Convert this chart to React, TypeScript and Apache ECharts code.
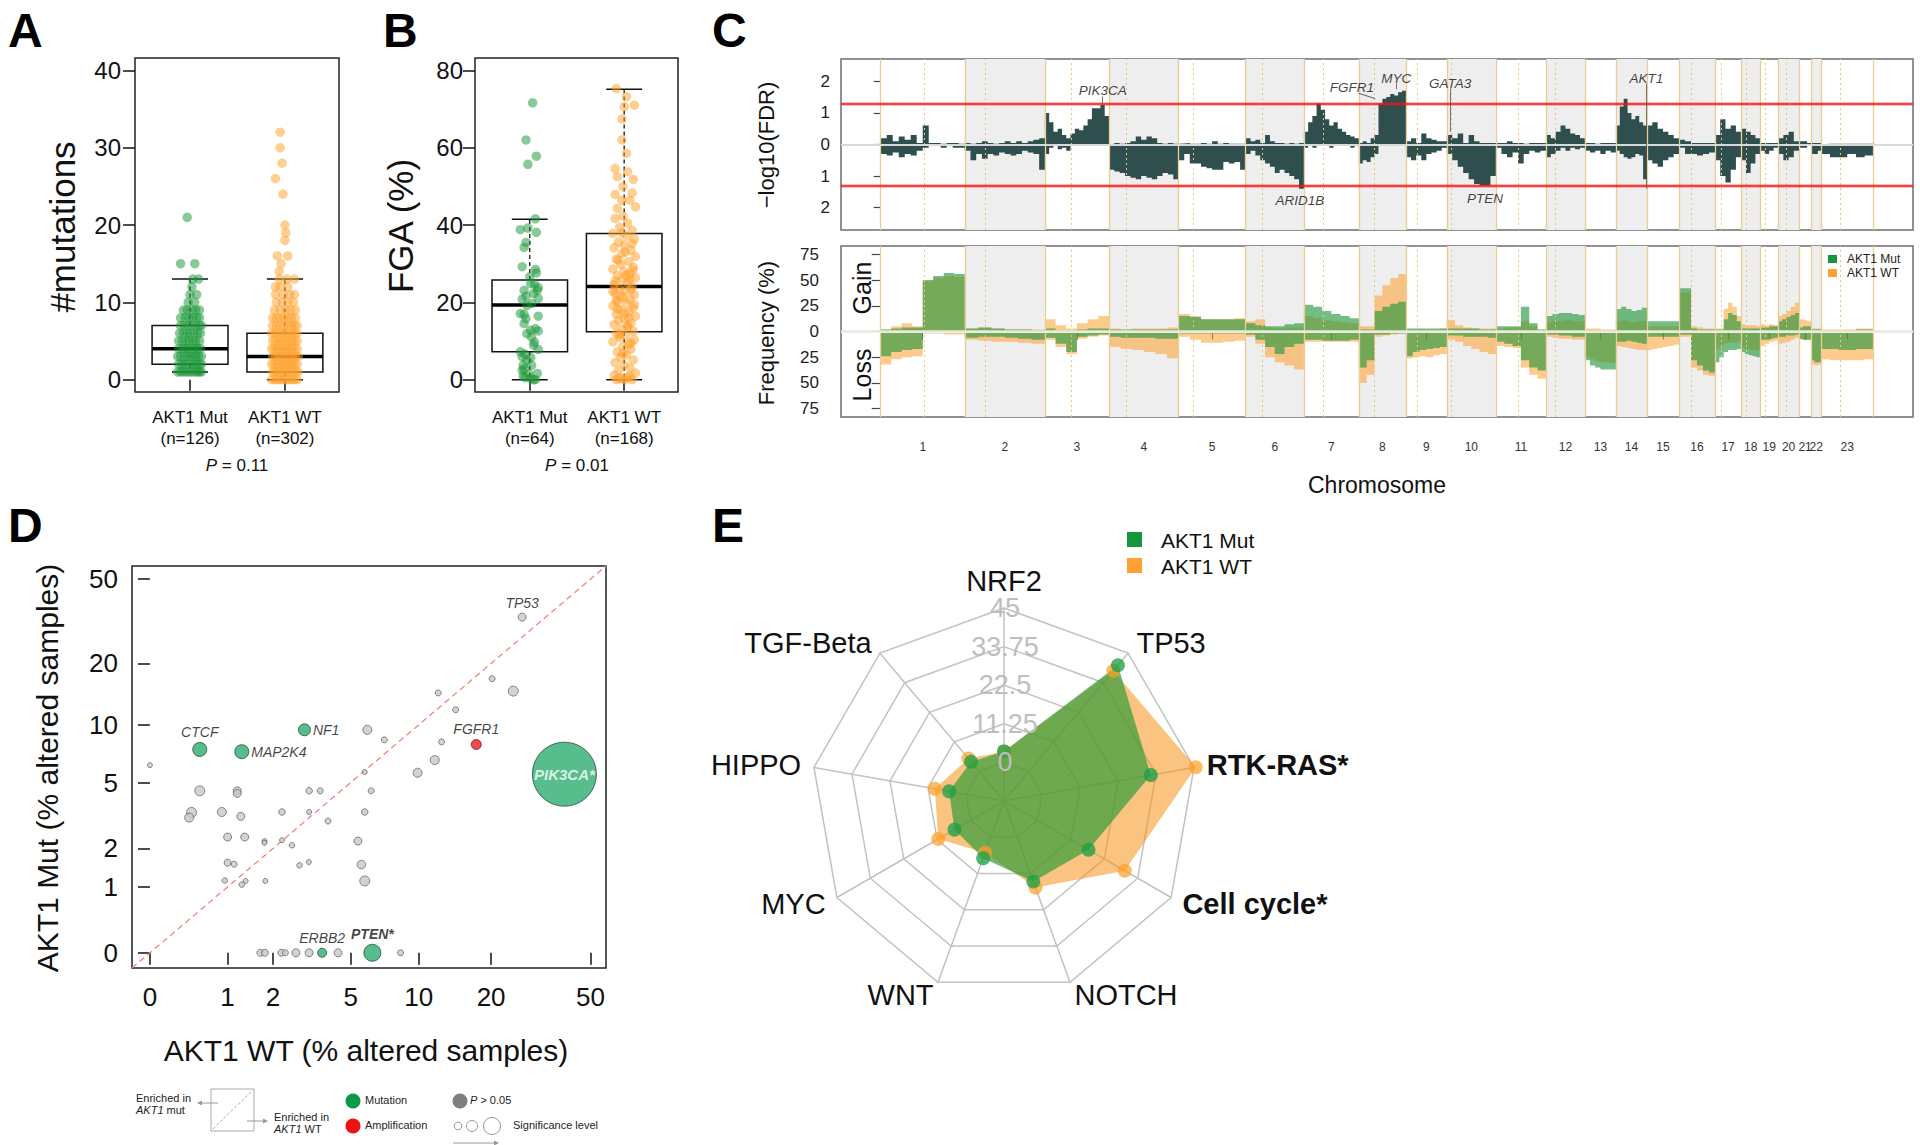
import React, { useEffect, useRef } from 'react';
import * as echarts from 'echarts';

const FONT = '"Liberation Sans", Arial, Helvetica, sans-serif';
const INK = '#111111';
const GREEN_PT = 'rgba(25,150,55,0.64)';
const ORANGE_PT = 'rgba(255,160,40,0.64)';

// ================= Panel A: #mutations =================
const groupLabelsA = ['AKT1 Mut\n(n=126)', 'AKT1 WT\n(n=302)'];
const mutationTicks = [0, 10, 20, 30, 40];
// [lower whisker, Q1, median, Q3, upper whisker]
const mutationBoxStats = [
  [1, 2, 4, 7, 13],
  [0, 1, 3, 6, 13],
];
// [value, jitter offsets]
const mutationsMutRows: [number, number[]][] = [
  [1, [-0.13, -0.1, -0.07, -0.04, -0.01, 0.02, 0.05, 0.08, 0.1, 0.12]],
  [2, [-0.12, -0.09, -0.06, -0.03, 0.01, 0.04, 0.07, 0.1, 0.12]],
  [3, [-0.13, -0.1, -0.06, -0.03, 0.0, 0.03, 0.06, 0.09, 0.12]],
  [4, [-0.12, -0.08, -0.05, -0.02, 0.02, 0.05, 0.08, 0.11]],
  [5, [-0.12, -0.08, -0.04, -0.01, 0.03, 0.06, 0.1]],
  [6, [-0.11, -0.07, -0.03, 0.0, 0.04, 0.08, 0.11]],
  [7, [-0.1, -0.06, -0.02, 0.02, 0.06, 0.1, 0.12]],
  [8, [-0.1, -0.05, -0.01, 0.03, 0.07, 0.1]],
  [9, [-0.07, -0.03, 0.02, 0.06, 0.1]],
  [10, [-0.02, 0.05]],
  [11, [0.0, 0.07]],
  [12, [0.02]],
  [13, [0.03, 0.09]],
  [15, [-0.1, 0.05]],
  [21, [-0.03]],
];
const mutationsWtRows: [number, number[]][] = [
  [0, [-0.14, -0.11, -0.08, -0.05, -0.02, 0.01, 0.04, 0.07, 0.1, 0.13]],
  [1, [-0.13, -0.1, -0.07, -0.04, -0.01, 0.02, 0.05, 0.08, 0.11, 0.14]],
  [2, [-0.14, -0.11, -0.08, -0.05, -0.02, 0.01, 0.04, 0.07, 0.1, 0.13]],
  [3, [-0.13, -0.1, -0.07, -0.04, -0.01, 0.02, 0.05, 0.08, 0.11, 0.14]],
  [4, [-0.14, -0.11, -0.08, -0.05, -0.02, 0.01, 0.04, 0.07, 0.1, 0.13]],
  [5, [-0.13, -0.1, -0.06, -0.03, 0.0, 0.04, 0.07, 0.1, 0.13]],
  [6, [-0.14, -0.1, -0.07, -0.03, 0.0, 0.03, 0.07, 0.1, 0.13]],
  [7, [-0.13, -0.09, -0.05, -0.01, 0.03, 0.07, 0.1, 0.13]],
  [8, [-0.13, -0.09, -0.05, -0.01, 0.03, 0.07, 0.11]],
  [9, [-0.11, -0.05, 0.01, 0.06, 0.11]],
  [10, [-0.09, -0.03, 0.03, 0.09]],
  [11, [-0.1, -0.02, 0.05, 0.1]],
  [12, [-0.1, -0.05, 0.03]],
  [13, [-0.06, 0.02, 0.1]],
  [14, [-0.06]],
  [15, [-0.04]],
  [16, [-0.08, 0.03]],
  [18, [0.0]],
  [19, [0.01]],
  [20, [0.0]],
  [24, [-0.02]],
  [26, [-0.1]],
  [28, [-0.03]],
  [30, [-0.05]],
  [32, [-0.05]],
];

// ================= Panel B: FGA =================
const groupLabelsB = ['AKT1 Mut\n(n=64)', 'AKT1 WT\n(n=168)'];
const fgaTicks = [0, 20, 40, 60, 80];
const fgaBoxStats = [
  [0, 7.2, 19.3, 25.8, 41.5],
  [0, 12.4, 24.1, 37.8, 75.1],
];
// [jitter offset, FGA %]
const fgaMutPoints: [number, number][] = [
  [0.03, 71.6], [-0.04, 62.0], [0.07, 57.8], [-0.02, 55.7], [0.06, 41.6], [-0.1, 38.8], [-0.02, 39.2],
  [0.07, 38.1], [-0.04, 35.5], [-0.06, 34.2], [-0.08, 29.2], [0.06, 28.5], [0.07, 27.6], [0.0, 26.6],
  [0.01, 24.8], [0.05, 24.7], [0.09, 23.8], [-0.06, 23.1], [0.04, 22.3], [-0.04, 21.6], [-0.08, 20.8],
  [0.09, 21.0], [0.02, 19.7], [-0.03, 19.2], [-0.1, 17.1], [-0.06, 16.9], [0.09, 16.4], [-0.06, 14.5],
  [0.01, 12.8], [0.09, 12.6], [-0.03, 11.9], [0.05, 9.7], [0.04, 8.9], [0.09, 7.8], [-0.1, 7.2],
  [-0.05, 6.6], [-0.08, 5.9], [0.01, 5.7], [-0.07, 3.7], [0.02, 3.7], [-0.06, 2.8], [0.08, 1.6],
  [-0.05, 0.5], [0.04, 0.0], [0.01, 0.3], [0.06, 0.0], [-0.07, 0.9], [0.08, 23.1], [-0.03, 5.0],
  [0.06, 13.2], [-0.08, 2.4], [-0.01, 1.5], [0.02, 11.0], [-0.04, 15.8],
];
const fgaWtPoints: [number, number][] = [
  [-0.07, 75.3], [0.02, 73.2], [0.09, 71.0], [0.0, 70.6], [-0.02, 67.4], [-0.02, 62.0], [0.02, 58.5],
  [-0.08, 54.6], [0.03, 53.8], [-0.06, 52.5], [0.08, 51.8], [-0.01, 49.9], [0.07, 48.3], [-0.08, 47.9],
  [-0.02, 46.4], [0.05, 46.4], [0.1, 44.7], [-0.06, 44.3], [-0.01, 42.3], [-0.08, 41.7], [0.03, 40.5],
  [-0.04, 39.4], [0.07, 38.6], [-0.1, 37.8], [0.02, 37.1], [0.09, 36.4], [-0.05, 35.6], [0.0, 34.8],
  [-0.09, 34.1], [0.06, 33.5], [-0.02, 32.6], [0.1, 31.9], [-0.07, 31.2], [0.04, 30.5], [-0.03, 29.8],
  [0.08, 29.1], [-0.1, 28.6], [0.0, 28.0], [0.05, 27.4], [-0.06, 26.9], [0.1, 26.3], [-0.02, 25.8],
  [0.03, 25.1], [-0.09, 24.6], [0.07, 24.0], [-0.04, 23.5], [0.01, 23.0], [-0.08, 22.4], [0.09, 21.9],
  [-0.01, 21.3], [0.05, 20.8], [-0.06, 20.2], [0.02, 19.7], [-0.1, 19.1], [0.08, 18.6], [-0.03, 18.0],
  [0.04, 17.5], [-0.07, 16.9], [0.1, 16.4], [0.0, 15.8], [-0.05, 15.3], [0.06, 14.7], [-0.09, 14.2],
  [0.03, 13.6], [-0.02, 13.1], [0.08, 12.5], [-0.07, 12.0], [0.01, 11.4], [-0.04, 10.9], [0.09, 10.3],
  [-0.1, 9.8], [0.04, 9.2], [-0.01, 8.6], [0.06, 7.9], [-0.06, 7.2], [0.02, 6.4], [-0.03, 5.8],
  [0.08, 5.1], [-0.08, 4.4], [0.0, 3.8], [0.05, 3.0], [-0.05, 2.3], [0.1, 1.7], [-0.09, 1.1],
  [0.03, 0.6], [-0.02, 0.2], [0.07, 0.0], [-0.07, 0.0], [0.01, 0.0], [-0.04, 0.4], [0.05, 0.9],
  [0.02, 27.0], [-0.08, 25.5], [0.06, 23.2], [-0.03, 21.6], [0.09, 19.4], [-0.06, 18.3], [0.0, 17.2],
  [0.04, 16.0], [-0.1, 22.8], [0.08, 28.3], [-0.05, 30.9], [0.01, 33.0], [0.07, 35.2], [-0.02, 38.0],
  [0.05, 26.0], [-0.07, 20.5], [0.03, 14.0], [-0.04, 11.7], [0.06, 9.5], [-0.01, 6.8],
];

// ================= Panel C: chromosomes =================
const chromNames = ['1', '2', '3', '4', '5', '6', '7', '8', '9', '10', '11', '12', '13', '14', '15', '16', '17', '18', '19', '20', '21', '22', '23'];
const chromLenMb = [257, 245, 196, 213, 205, 178, 168, 144, 125, 150, 153, 119, 95, 95, 98, 110, 80, 58, 55, 64, 37, 31, 159];
const centromereMb = [132, 63, 82, 52, 44, 50, 58, 46, 34, 15, 67, 28, null, null, null, 37, 18, 15, 15, 24, null, null, 58];
const fdrTicks = [-2, -1, 0, 1, 2];
const fdrThreshold = 1.3;
// -log10(FDR) profile, per chromosome, in equal steps
const fdrUp = [
  [0.2, 0.3, 0.1, 0.25, 0.15, 0.3, 0.05, 0.6, 0.05, 0.05, 0.02, 0.05, 0.05, 0.02],
  [0.05, 0.02, 0.05, 0.1, 0.05, 0.02, 0.05, 0.1, 0.05, 0.1, 0.05, 0.1, 0.15, 0.2],
  [1.0, 0.7, 0.4, 0.5, 0.3, 0.2, 0.35, 0.5, 0.45, 0.6, 0.8, 1.15, 1.15, 1.25, 0.9],
  [0.02, 0.05, 0.02, 0.05, 0.1, 0.25, 0.15, 0.25, 0.2, 0.05, 0.02, 0.05, 0.02],
  [0.03, 0.05, 0.02, 0.02, 0.05, 0.02, 0.1, 0.02, 0.05, 0.02, 0.02, 0.02],
  [0.2, 0.1, 0.15, 0.05, 0.3, 0.1, 0.05, 0.05, 0.02, 0.05, 0.02, 0.05],
  [0.4, 0.7, 0.9, 1.3, 1.1, 0.8, 0.6, 0.7, 0.5, 0.4, 0.3, 0.25, 0.2],
  [0.05, 0.1, 0.05, 0.2, 0.3, 1.3, 1.45, 1.5, 1.6, 1.55, 1.65, 1.7],
  [0.1, 0.2, 0.05, 0.35, 0.2, 0.15, 0.1, 0.1],
  [0.3, 0.2, 0.35, 0.05, 0.3, 0.1, 0.05, 0.05, 0.05],
  [0.05, 0.05, 0.1, 0.05, 0.05, 0.02, 0.05, 0.05, 0.05],
  [0.3, 0.2, 0.4, 0.6, 0.5, 0.35, 0.3, 0.2],
  [0.05, 0.05, 0.02, 0.05, 0.05, 0.05],
  [0.6, 1.2, 1.45, 1.0, 0.8, 0.9, 0.7, 0.6],
  [0.6, 0.7, 0.5, 0.4, 0.3, 0.2],
  [0.15, 0.1, 0.05, 0.05, 0.05, 0.05],
  [0.3, 0.8, 0.5, 0.6, 0.4],
  [0.5, 0.4, 0.3, 0.2],
  [0.05, 0.05, 0.05, 0.05],
  [0.2, 0.3, 0.4, 0.1],
  [0.1, 0.1, 0.05],
  [0.05, 0.05, 0.05],
  [0.02, 0.02, 0.02, 0.02, 0.02, 0.02],
];
const fdrDown = [
  [0.3, 0.35, 0.25, 0.4, 0.3, 0.35, 0.2, 0.1, 0.05, 0.05, 0.1, 0.05, 0.1, 0.1],
  [0.2, 0.5, 0.3, 0.45, 0.3, 0.35, 0.25, 0.3, 0.35, 0.3, 0.2, 0.25, 0.3, 0.8],
  [0.3, 0.1, 0.05, 0.15, 0.1, 0.2, 0.05, 0.05, 0.05, 0.05, 0.05, 0.05, 0.05, 0.05, 0.05],
  [0.8, 0.85, 0.9, 1.0, 1.05, 1.1, 1.0, 1.05, 1.1, 1.0, 0.9, 0.95, 1.1],
  [0.5, 0.3, 0.6, 0.6, 0.7, 0.75, 0.8, 0.8, 0.55, 0.6, 0.55, 0.8],
  [0.3, 0.2, 0.35, 0.5, 0.6, 0.7, 0.9, 0.8, 0.9, 1.0, 1.1, 1.4],
  [0.1, 0.05, 0.1, 0.05, 0.05, 0.05, 0.1, 0.05, 0.05, 0.05, 0.05, 0.1, 0.05],
  [0.6, 0.5, 0.55, 0.4, 0.3, 0.05, 0.05, 0.05, 0.05, 0.05, 0.05, 0.05],
  [0.4, 0.5, 0.35, 0.5, 0.3, 0.25, 0.2, 0.1],
  [0.3, 0.5, 0.7, 0.9, 1.1, 1.25, 1.3, 1.3, 1.0],
  [0.1, 0.3, 0.4, 0.25, 0.6, 0.3, 0.2, 0.25, 0.2],
  [0.4, 0.3, 0.2, 0.1, 0.2, 0.1, 0.15, 0.1],
  [0.2, 0.25, 0.2, 0.3, 0.2, 0.25],
  [0.2, 0.3, 0.4, 0.45, 0.4, 0.3, 0.35, 1.1],
  [0.5, 0.6, 0.7, 0.5, 0.4, 0.3],
  [0.1, 0.3, 0.3, 0.35, 0.3, 0.25],
  [0.5, 1.0, 1.2, 0.8, 0.4],
  [0.5, 0.9, 0.6, 0.3],
  [0.2, 0.3, 0.2, 0.1],
  [0.3, 0.5, 0.4, 0.2],
  [0.1, 0.1, 0.05],
  [0.3, 0.3, 0.2],
  [0.3, 0.4, 0.4, 0.3, 0.4, 0.35],
];
const cGeneLabels = [
  { name: 'PIK3CA', pos: 679, y: 1.71 },
  { name: 'ARID1B', pos: 1282, y: -1.77 },
  { name: 'FGFR1', pos: 1441, y: 1.8 },
  { name: 'MYC', pos: 1576, y: 2.09 },
  { name: 'GATA3', pos: 1741, y: 1.93 },
  { name: 'PTEN', pos: 1848, y: -1.71 },
  { name: 'AKT1', pos: 2341, y: 2.09 },
];
// [genomic position, from, to]
const cGeneStems = [[676, 1.52, 1.3], [1576, 1.93, 1.75], [1741, 1.77, 0.4], [2341, 1.92, -1.4]];
const fgfr1Leader = [[1462, 1.62], [1512, 1.45]];

const freqTicks = [-75, -50, -25, 0, 25, 50, 75];
// Copy-number frequency (%), per chromosome, in equal steps
const gainMut = [
  [2, 3, 4, 4, 50, 54, 57, 56], [3, 4, 3, 2, 2, 1], [3, 1, 1, 2, 3, 3], [2, 2, 2, 2, 2, 2],
  [15, 14, 12, 12, 12, 12], [8, 6, 5, 5, 7, 8], [26, 24, 20, 17, 15, 13], [2, 2, 20, 24, 27, 29],
  [3, 3, 3, 3, 3, 3], [3, 3, 3, 3, 2, 2], [5, 5, 5, 24, 8, 2], [15, 17, 18, 18, 17, 16],
  [1, 1, 1, 1, 1, 1], [22, 24, 22, 20, 21, 23], [10, 10, 10, 10, 10, 10], [42, 42, 3, 2, 2, 2],
  [2, 2, 12, 18, 16, 10], [3, 3, 3, 3, 3], [4, 4, 5, 5], [10, 12, 14, 16, 18], [4, 5, 5], [2, 2, 2],
  [1, 1, 1, 1, 2, 2],
];
const gainWt = [
  [2, 5, 8, 5, 49, 52, 54, 53], [3, 4, 3, 2, 2, 2], [12, 6, 3, 8, 12, 15], [3, 2, 3, 3, 3, 4],
  [17, 15, 12, 12, 12, 13], [10, 12, 4, 3, 4, 4], [15, 13, 11, 10, 9, 8], [5, 5, 35, 45, 52, 56],
  [2, 2, 2, 2, 2, 3], [11, 6, 4, 3, 3, 3], [3, 4, 4, 10, 5, 2], [9, 10, 10, 11, 10, 10],
  [3, 3, 3, 2, 2, 2], [10, 11, 10, 9, 10, 10], [5, 5, 5, 5, 5, 5], [38, 38, 5, 4, 3, 3],
  [3, 3, 22, 28, 24, 15], [7, 6, 6, 6, 5], [7, 6, 7, 6], [15, 17, 20, 24, 28], [12, 11, 10], [3, 3, 3],
  [2, 2, 2, 2, 3, 3],
];
const lossMut = [
  [24, 20, 18, 17, 1, 1, 1, 1], [6, 5, 5, 6, 7, 8], [6, 12, 20, 5, 4, 3], [5, 6, 6, 6, 7, 7],
  [2, 2, 2, 2, 2, 2], [3, 8, 15, 22, 15, 12], [8, 8, 9, 9, 9, 8], [35, 28, 3, 3, 2, 2],
  [24, 20, 18, 17, 16, 15], [4, 4, 5, 5, 5, 6], [10, 12, 14, 28, 35, 38], [3, 3, 4, 4, 5, 5],
  [28, 33, 35, 37, 37, 37], [10, 10, 9, 10, 11, 12], [5, 5, 5, 5, 5, 5], [3, 3, 28, 33, 38, 40],
  [30, 25, 20, 18, 18, 17], [20, 22, 23, 24, 25], [8, 8, 7, 6], [5, 5, 4, 4, 3], [7, 8, 8], [28, 30, 30],
  [17, 17, 18, 18, 17, 17],
];
const lossWt = [
  [32, 27, 25, 24, 2, 2, 3, 3], [8, 9, 10, 10, 11, 12], [8, 15, 22, 7, 5, 4], [15, 17, 18, 20, 22, 26],
  [5, 8, 11, 11, 10, 9], [5, 12, 25, 30, 33, 37], [10, 10, 10, 10, 10, 10], [50, 42, 5, 4, 3, 2],
  [26, 25, 24, 25, 23, 22], [8, 10, 14, 17, 20, 22], [14, 15, 16, 35, 42, 46], [5, 6, 7, 7, 8, 8],
  [25, 27, 29, 30, 30, 31], [14, 15, 16, 17, 18, 18], [18, 17, 16, 15, 14, 13], [5, 5, 35, 38, 42, 43],
  [17, 15, 12, 11, 11, 10], [16, 17, 18, 18, 18], [14, 12, 10, 9], [12, 11, 10, 8, 6], [8, 8, 8], [32, 33, 32],
  [27, 28, 28, 28, 28, 27],
];

// ================= Panel D: altered samples (%) =================
const dTickValues = [0, 1, 2, 5, 10, 20, 50];
// [AKT1 WT %, AKT1 Mut %, significance size]
const dGreyGenes: number[][] = [
  [20.2, 16.9, 6], [24.6, 14.7, 10], [12.1, 14.4, 6], [14.3, 11.9, 6], [12.5, 8.2, 6], [11.7, 6.6, 9],
  [9.9, 5.65, 9], [5.96, 9.45, 9], [7.1, 8.4, 6], [5.8, 5.7, 5], [6.2, 4.5, 6], [5.8, 3.4, 6.5],
  [5.4, 2.24, 8], [5.6, 1.53, 8.5], [5.8, 1.13, 10], [0, 6.2, 5], [0.56, 4.5, 10], [1.18, 4.5, 8],
  [1.18, 4.35, 8], [3.14, 4.5, 6.5], [3.57, 4.5, 6], [0.45, 3.38, 10], [0.42, 3.15, 9], [0.9, 3.4, 9],
  [1.25, 3.2, 8], [2.25, 3.4, 6.5], [3.14, 3.4, 5], [3.9, 3.0, 6], [1.0, 2.38, 8], [1.33, 2.38, 8],
  [1.78, 2.24, 5], [1.78, 2.18, 5], [2.25, 2.27, 5], [2.55, 2.1, 5.5], [1.0, 1.58, 7], [1.12, 1.54, 6],
  [2.8, 1.51, 5.5], [3.13, 1.6, 5], [0.95, 1.14, 5.5], [1.27, 1.05, 5.5], [1.35, 1.13, 5], [1.8, 1.13, 5],
  [1.68, 0, 7], [1.79, 0, 7], [2.23, 0, 7], [2.35, 0, 6], [2.68, 0, 8], [3.14, 0, 8], [4.36, 0, 8],
  [8.36, 0, 6],
];
const dGreyLabelled = [{ name: 'TP53', wt: 26.7, mut: 33.2, size: 8 }];
const dMutationGenes = [
  { name: 'NF1', wt: 2.97, mut: 9.45, size: 12, pos: 'right' },
  { name: 'CTCF', wt: 0.56, mut: 7.5, size: 14, pos: 'top' },
  { name: 'MAP2K4', wt: 1.27, mut: 7.3, size: 14, pos: 'right' },
  { name: 'ERBB2', wt: 3.65, mut: 0, size: 9, pos: 'top' },
  { name: 'PTEN*', wt: 6.28, mut: 0, size: 17, pos: 'top' },
  { name: 'PIK3CA*', wt: 39.4, mut: 5.55, size: 64, pos: 'inside' },
];
const dAmplificationGenes = [{ name: 'FGFR1', wt: 17.4, mut: 7.95, size: 10, pos: 'top' }];

// ================= Panel E: pathways =================
const pathways = ['NRF2', 'TP53', 'RTK-RAS*', 'Cell cycle*', 'NOTCH', 'WNT', 'MYC', 'HIPPO', 'TGF-Beta'];
const pathwayMut = [3.2, 40.4, 32.2, 17.2, 13.7, 6.5, 5.4, 5.0, 3.7];
const pathwayWt = [3.2, 38.3, 45.5, 29.4, 15.6, 4.8, 10.9, 9.2, 4.9];
const radarTicks = [0, 11.25, 22.5, 33.75, 45];
const radarMin = -11.25;
const radarMax = 45;

// ---------------------------------------------------------------
const chromStart: number[] = [];
chromLenMb.reduce((acc, l, i) => { chromStart[i] = acc; return acc + l; }, 0);
const genomeTotal = chromLenMb.reduce((a, b) => a + b, 0);
const chromCenters = chromStart.map((s, i) => s + chromLenMb[i] / 2);

function stepProfile(profile: number[][], sign: number) {
  const pts: number[][] = [];
  profile.forEach((vals, c) => {
    const s = chromStart[c];
    const L = chromLenMb[c];
    vals.forEach((v, k) => pts.push([s + (L * k) / vals.length, sign * v]));
    pts.push([s + L, 0]);
  });
  return pts;
}

const rowsToPoints = (rows: [number, number[]][], center: number) =>
  rows.flatMap(([v, offs]) => offs.map((o) => [center + o, v]));

function boxRender(params: any, api: any) {
  const x = api.value(0);
  const lo = api.value(1);
  const q1 = api.value(2);
  const med = api.value(3);
  const q3 = api.value(4);
  const hi = api.value(5);
  const tl = api.coord([x - 0.4, q3]);
  const br = api.coord([x + 0.4, q1]);
  const mL = api.coord([x - 0.4, med]);
  const mR = api.coord([x + 0.4, med]);
  const top = api.coord([x, hi]);
  const bot = api.coord([x, lo]);
  const capL = api.coord([x - 0.19, hi])[0];
  const capR = api.coord([x + 0.19, hi])[0];
  const cx = top[0];
  const dash = { stroke: INK, lineWidth: 1.3, lineDash: [4, 3] };
  const solid = { stroke: INK, lineWidth: 1.5 };
  return {
    type: 'group',
    children: [
      { type: 'line', shape: { x1: cx, y1: tl[1], x2: cx, y2: top[1] }, style: dash },
      { type: 'line', shape: { x1: cx, y1: br[1], x2: cx, y2: bot[1] }, style: dash },
      { type: 'line', shape: { x1: capL, y1: top[1], x2: capR, y2: top[1] }, style: solid },
      { type: 'line', shape: { x1: capL, y1: bot[1], x2: capR, y2: bot[1] }, style: solid },
      { type: 'rect', shape: { x: tl[0], y: tl[1], width: br[0] - tl[0], height: br[1] - tl[1] }, style: { fill: 'rgba(0,0,0,0)', stroke: INK, lineWidth: 1.5 } },
      { type: 'line', shape: { x1: mL[0], y1: mL[1], x2: mR[0], y2: mR[1] }, style: { stroke: '#000', lineWidth: 3.5 } },
    ],
  };
}

function boxAxes(gridIndex: number, labels: string[], ticks: number[], yMin: number, yMax: number, labelMargin: number) {
  const x = {
    gridIndex, type: 'value', min: 0.42, max: 2.57,
    axisLine: { show: false }, splitLine: { show: false },
    axisTick: { show: true, customValues: [1, 2], length: 11, lineStyle: { color: INK, width: 1.5 } },
    axisLabel: {
      show: true, customValues: [1, 2], formatter: (v: number) => labels[Math.round(v) - 1],
      fontSize: 17, lineHeight: 21, color: INK, margin: 15, fontFamily: FONT,
    },
  };
  const y = {
    gridIndex, type: 'value', min: yMin, max: yMax,
    axisLine: { show: false }, splitLine: { show: false },
    axisTick: { show: true, customValues: ticks, length: 12, lineStyle: { color: INK, width: 1.5 } },
    axisLabel: { show: true, customValues: ticks, fontSize: 24, color: INK, margin: labelMargin, fontFamily: FONT },
  };
  return { x, y };
}

function buildOption() {
  const aAxes = boxAxes(0, groupLabelsA, mutationTicks, -1.6, 41.6, 14);
  const bAxes = boxAxes(1, groupLabelsB, fgaTicks, -3.2, 83.2, 12);

  const cXMin = -0.04 * genomeTotal;
  const cXMax = genomeTotal * 1.04;
  const bands = chromStart
    .map((s, i) => (i % 2 === 1 ? [{ xAxis: s }, { xAxis: s + chromLenMb[i] }] : null))
    .filter(Boolean);
  const boundaryLines: any[] = [];
  chromStart.forEach((s, i) => {
    boundaryLines.push({ xAxis: s, lineStyle: { color: '#E9CD93', width: 1.3, type: 'solid' } });
    const cen = centromereMb[i];
    if (cen !== null) boundaryLines.push({ xAxis: s + (cen as number), lineStyle: { color: '#EFC57A', width: 1, type: [2, 3] } });
  });
  boundaryLines.push({ xAxis: genomeTotal, lineStyle: { color: '#E9CD93', width: 1.3, type: 'solid' } });

  const cBackground = (xi: number, zeroColor: string) => ({
    type: 'line', xAxisIndex: xi, yAxisIndex: xi, data: [[0, 0]], symbol: 'none', silent: true, z: 1,
    lineStyle: { width: 0 },
    markArea: { silent: true, itemStyle: { color: '#EEEEEE' }, data: bands },
    markLine: {
      silent: true, symbol: ['none', 'none'], label: { show: false },
      data: [...boundaryLines, { yAxis: 0, lineStyle: { color: zeroColor, width: 2, type: 'solid' } }],
    },
  });

  const areaStep = (xi: number, data: number[][], color: string, z: number) => ({
    type: 'line', xAxisIndex: xi, yAxisIndex: xi, data, step: 'end', symbol: 'none', silent: true, z,
    lineStyle: { width: 0, color }, areaStyle: { color, opacity: 1 },
  });

  const cAxisX = (gi: number, withLabels: boolean) => ({
    gridIndex: gi, type: 'value', min: cXMin, max: cXMax,
    axisLine: { show: false }, splitLine: { show: false },
    axisTick: withLabels ? { show: true, customValues: chromCenters, length: 8, lineStyle: { color: '#555', width: 1.2 } } : { show: false },
    axisLabel: withLabels
      ? {
          show: true, customValues: chromCenters, fontSize: 12, color: '#333', margin: 24, fontFamily: FONT,
          formatter: (v: number) => chromNames[chromCenters.findIndex((c) => Math.abs(c - v) < 1e-6)] || '',
        }
      : { show: false },
  });

  const lp = (v: number) => Math.log1p(v);
  const dTicks = dTickValues.map(lp);
  const dAxis = (isX: boolean) => ({
    gridIndex: 4, type: 'value', min: -0.16, max: 4.07,
    axisLine: { show: false }, splitLine: { show: false },
    axisTick: { show: true, customValues: dTicks, length: 12, lineStyle: { color: INK, width: 1.5 } },
    axisLabel: {
      show: true, customValues: dTicks, fontSize: 26, color: INK, margin: isX ? 16 : 14, fontFamily: FONT,
      formatter: (v: number) => String(Math.round(Math.expm1(v))),
    },
  });

  const order = [0, 8, 7, 6, 5, 4, 3, 2, 1];

  const txt = (text: string, x: number, y: number, size: number, extra: any = {}) => ({
    type: 'text', x, y, silent: true, z: 50,
    style: { text, fontSize: size, fontFamily: FONT, fill: INK, textAlign: 'center', textVerticalAlign: 'middle', ...extra },
  });
  const rot = (text: string, x: number, y: number, size: number) => ({ ...txt(text, x, y, size), rotation: Math.PI / 2 });
  const letter = (t: string, x: number, y: number) => ({
    type: 'text', x, y, silent: true, z: 50,
    style: { text: t, fontSize: 48, fontWeight: 'bold', fontFamily: FONT, fill: '#000', textAlign: 'left', textVerticalAlign: 'middle' },
  });
  const italicRich = {
    i: { fontStyle: 'italic', fontSize: 17, fontFamily: FONT, fill: INK },
    n: { fontSize: 17, fontFamily: FONT, fill: INK },
  };
  const smallRich = {
    i: { fontStyle: 'italic', fontSize: 11, fontFamily: FONT, fill: '#222' },
    n: { fontSize: 11, fontFamily: FONT, fill: '#222' },
  };
  const small = (text: string, x: number, y: number, size = 11) => ({
    type: 'text', x, y, silent: true, z: 50,
    style: { text, fontSize: size, fontFamily: FONT, fill: '#222', textAlign: 'left', textVerticalAlign: 'middle', rich: smallRich },
  });

  const graphic: any[] = [
    letter('A', 8, 30), letter('B', 383, 30), letter('C', 712, 30), letter('D', 8, 525), letter('E', 712, 525),
    rot('#mutations', 62, 227, 35),
    rot('FGA (%)', 400, 226, 35),
    txt('{i|P}{n| = 0.11}', 237, 465, 17, { rich: italicRich }),
    txt('{i|P}{n| = 0.01}', 577, 465, 17, { rich: italicRich }),
    rot('\u2212log10(FDR)', 766, 145, 22),
    rot('Frequency (%)', 766, 333, 22),
    rot('Gain', 862, 288, 25),
    rot('Loss', 862, 375, 25),
    txt('Chromosome', 1377, 485, 23),
    { type: 'rect', shape: { x: 1828, y: 255, width: 9, height: 8 }, style: { fill: '#14963C' }, z: 50 },
    { type: 'rect', shape: { x: 1828, y: 269, width: 9, height: 8 }, style: { fill: '#FFA033' }, z: 50 },
    small('AKT1 Mut', 1847, 259, 12),
    small('AKT1 WT', 1847, 273, 12),
    rot('AKT1 Mut (% altered samples)', 47, 768, 30),
    txt('AKT1 WT (% altered samples)', 366, 1050, 30),
    // Panel D key
    small('Enriched in', 136, 1098),
    small('{i|AKT1}{n| mut}', 136, 1110),
    { type: 'rect', shape: { x: 211, y: 1089, width: 43, height: 42 }, style: { fill: 'none', stroke: '#AAAAAA', lineWidth: 1 }, z: 50 },
    { type: 'line', shape: { x1: 213, y1: 1129, x2: 252, y2: 1091 }, style: { stroke: '#AAAAAA', lineWidth: 1, lineDash: [3, 2] }, z: 50 },
    { type: 'line', shape: { x1: 218, y1: 1103, x2: 201, y2: 1103 }, style: { stroke: '#999999', lineWidth: 1 }, z: 50 },
    { type: 'polygon', shape: { points: [[197, 1103], [202, 1100.5], [202, 1105.5]] }, style: { fill: '#999999' }, z: 50 },
    { type: 'line', shape: { x1: 247, y1: 1121, x2: 264, y2: 1121 }, style: { stroke: '#999999', lineWidth: 1 }, z: 50 },
    { type: 'polygon', shape: { points: [[268, 1121], [263, 1118.5], [263, 1123.5]] }, style: { fill: '#999999' }, z: 50 },
    small('Enriched in', 274, 1117),
    small('{i|AKT1}{n| WT}', 274, 1129),
    { type: 'circle', shape: { cx: 353, cy: 1101, r: 7.5 }, style: { fill: '#0A9A4A' }, z: 50 },
    small('Mutation', 365, 1100),
    { type: 'circle', shape: { cx: 353, cy: 1126, r: 7.5 }, style: { fill: '#EE1111' }, z: 50 },
    small('Amplification', 365, 1125),
    { type: 'circle', shape: { cx: 460, cy: 1101, r: 7.5 }, style: { fill: '#7F7F7F' }, z: 50 },
    small('{i|P}{n| > 0.05}', 470, 1100),
    { type: 'circle', shape: { cx: 458, cy: 1126, r: 3.8 }, style: { fill: 'none', stroke: '#999999', lineWidth: 1 }, z: 50 },
    { type: 'circle', shape: { cx: 472, cy: 1126, r: 5.5 }, style: { fill: 'none', stroke: '#999999', lineWidth: 1 }, z: 50 },
    { type: 'circle', shape: { cx: 492, cy: 1126, r: 8.5 }, style: { fill: 'none', stroke: '#999999', lineWidth: 1 }, z: 50 },
    small('Significance level', 513, 1125),
    { type: 'line', shape: { x1: 453, y1: 1143, x2: 494, y2: 1143 }, style: { stroke: '#999999', lineWidth: 1 }, z: 50 },
    { type: 'polygon', shape: { points: [[499, 1143], [494, 1140.5], [494, 1145.5]] }, style: { fill: '#999999' }, z: 50 },
    // Panel E legend
    { type: 'rect', shape: { x: 1127, y: 532, width: 15, height: 15 }, style: { fill: '#14963C' }, z: 50 },
    { type: 'rect', shape: { x: 1127, y: 558, width: 15, height: 15 }, style: { fill: '#FFA033' }, z: 50 },
    { type: 'text', x: 1161, y: 540, z: 50, style: { text: 'AKT1 Mut', fontSize: 21, fontFamily: FONT, fill: INK, textAlign: 'left', textVerticalAlign: 'middle' } },
    { type: 'text', x: 1161, y: 566, z: 50, style: { text: 'AKT1 WT', fontSize: 21, fontFamily: FONT, fill: INK, textAlign: 'left', textVerticalAlign: 'middle' } },
  ];

  const dPoint = (g: any, extraLabel: any = {}) => ({
    value: [lp(g.wt), lp(g.mut), g.size],
    label: {
      show: true, position: g.pos || 'top', distance: g.pos === 'right' ? 2 : 3, formatter: g.name,
      fontStyle: 'italic', fontSize: 14, color: INK, fontFamily: FONT, ...extraLabel,
    },
  });

  const series: any[] = [
    // Panel A
    { type: 'custom', xAxisIndex: 0, yAxisIndex: 0, data: mutationBoxStats.map((s, i) => [i + 1, ...s]), renderItem: boxRender, z: 2, silent: true },
    { type: 'scatter', xAxisIndex: 0, yAxisIndex: 0, data: rowsToPoints(mutationsMutRows, 1), symbolSize: 9.5, itemStyle: { color: GREEN_PT }, z: 3, silent: true },
    { type: 'scatter', xAxisIndex: 0, yAxisIndex: 0, data: rowsToPoints(mutationsWtRows, 2), symbolSize: 9.5, itemStyle: { color: ORANGE_PT }, z: 3, silent: true },
    // Panel B
    { type: 'custom', xAxisIndex: 1, yAxisIndex: 1, data: fgaBoxStats.map((s, i) => [i + 1, ...s]), renderItem: boxRender, z: 2, silent: true },
    { type: 'scatter', xAxisIndex: 1, yAxisIndex: 1, data: fgaMutPoints.map(([o, v]) => [1 + o, v]), symbolSize: 9.5, itemStyle: { color: GREEN_PT }, z: 3, silent: true },
    { type: 'scatter', xAxisIndex: 1, yAxisIndex: 1, data: fgaWtPoints.map(([o, v]) => [2 + o * 1.2, v]), symbolSize: 9.5, itemStyle: { color: ORANGE_PT }, z: 3, silent: true },
    // Panel C top
    cBackground(2, '#D9D9D9'),
    areaStep(2, stepProfile(fdrUp, 1), '#2F4F4F', 3),
    areaStep(2, stepProfile(fdrDown, -1), '#2F4F4F', 3),
    {
      type: 'line', xAxisIndex: 2, yAxisIndex: 2, data: fgfr1Leader, symbol: 'none', silent: true, z: 5,
      lineStyle: { color: '#333', width: 0.8 },
      markLine: {
        silent: true, symbol: ['none', 'none'], label: { show: false },
        data: [
          { yAxis: fdrThreshold, lineStyle: { color: 'rgba(255,0,0,0.25)', width: 4, type: 'solid' } },
          { yAxis: -fdrThreshold, lineStyle: { color: 'rgba(255,0,0,0.25)', width: 4, type: 'solid' } },
          { yAxis: fdrThreshold, lineStyle: { color: '#F01818', width: 1.5, type: 'solid' } },
          { yAxis: -fdrThreshold, lineStyle: { color: '#F01818', width: 1.5, type: 'solid' } },
          ...cGeneStems.map(([p, a, b]) => [
            { coord: [p, a], lineStyle: { color: '#555', width: 0.8, type: 'solid' } },
            { coord: [p, b] },
          ]),
        ],
      },
    },
    {
      type: 'scatter', xAxisIndex: 2, yAxisIndex: 2, silent: true, z: 6, symbolSize: 1,
      itemStyle: { color: 'rgba(0,0,0,0)' },
      data: cGeneLabels.map((g) => ({
        value: [g.pos, g.y],
        label: { show: true, position: 'inside', formatter: g.name, fontStyle: 'italic', fontSize: 13.5, color: INK, fontFamily: FONT },
      })),
    },
    // Panel C bottom
    cBackground(3, '#FFFFFF'),
    areaStep(3, stepProfile(gainWt, 1), 'rgba(255,160,45,0.55)', 2),
    areaStep(3, stepProfile(lossWt, -1), 'rgba(255,160,45,0.55)', 2),
    areaStep(3, stepProfile(gainMut, 1), 'rgba(30,150,60,0.62)', 3),
    areaStep(3, stepProfile(lossMut, -1), 'rgba(30,150,60,0.62)', 3),
    {
      type: 'line', xAxisIndex: 3, yAxisIndex: 3, data: [[0, 0]], symbol: 'none', silent: true, z: 6, lineStyle: { width: 0 },
      markLine: {
        silent: true, symbol: ['none', 'none'], label: { show: false },
        data: [{ yAxis: 0, lineStyle: { color: '#E6E9DC', width: 2.5, type: 'solid' } }],
      },
    },
    // Panel D
    {
      type: 'line', xAxisIndex: 4, yAxisIndex: 4, data: [[-0.16, -0.16], [4.07, 4.07]], symbol: 'none', silent: true, z: 2,
      lineStyle: { color: '#F4847C', width: 1.3, type: [6, 4] },
    },
    {
      type: 'scatter', xAxisIndex: 4, yAxisIndex: 4, silent: true, z: 3,
      data: dGreyGenes.map(([w, m, s]) => [lp(w), lp(m), s]),
      symbolSize: (v: number[]) => v[2],
      itemStyle: { color: '#C8C8C8', borderColor: '#4A4A4A', borderWidth: 0.8 },
    },
    {
      type: 'scatter', xAxisIndex: 4, yAxisIndex: 4, silent: true, z: 3,
      data: dGreyLabelled.map((g) => dPoint(g)),
      symbolSize: (v: number[]) => v[2],
      itemStyle: { color: '#C8C8C8', borderColor: '#4A4A4A', borderWidth: 0.8 },
    },
    {
      type: 'scatter', xAxisIndex: 4, yAxisIndex: 4, silent: true, z: 4,
      data: dMutationGenes.map((g) =>
        g.name === 'PIK3CA*'
          ? dPoint(g, { color: '#FFFFFF', fontWeight: 'bold', fontSize: 15 })
          : g.name === 'PTEN*'
          ? dPoint(g, { fontWeight: 'bold' })
          : dPoint(g)
      ),
      symbolSize: (v: number[]) => v[2],
      itemStyle: { color: '#2DAD70', borderColor: '#1F3D2C', borderWidth: 0.9 },
    },
    {
      type: 'scatter', xAxisIndex: 4, yAxisIndex: 4, silent: true, z: 4,
      data: dAmplificationGenes.map((g) => dPoint(g)),
      symbolSize: (v: number[]) => v[2],
      itemStyle: { color: '#F21B1B', borderColor: '#4A1A1A', borderWidth: 0.9 },
    },
    // Panel E
    {
      type: 'radar', radarIndex: 0, silent: true, z: 2, symbol: 'circle', symbolSize: 14,
      data: [
        {
          name: 'AKT1 WT', value: order.map((i) => pathwayWt[i]),
          itemStyle: { color: 'rgba(255,160,40,0.72)' }, lineStyle: { width: 0, color: 'rgba(255,160,40,0)' },
          areaStyle: { color: 'rgba(246,148,24,0.55)', opacity: 1 },
        },
        {
          name: 'AKT1 Mut', value: order.map((i) => pathwayMut[i]),
          itemStyle: { color: 'rgba(30,160,70,0.78)' }, lineStyle: { width: 0, color: 'rgba(30,150,60,0)' },
          areaStyle: { color: 'rgba(50,156,59,0.7)', opacity: 1 },
        },
      ],
    },
  ];

  return {
    animation: false,
    backgroundColor: '#FFFFFF',
    textStyle: { fontFamily: FONT },
    grid: [
      { left: 135, top: 58, width: 204, height: 334, show: true, borderColor: '#222', borderWidth: 1.5, backgroundColor: 'transparent' },
      { left: 475, top: 58, width: 203, height: 334, show: true, borderColor: '#222', borderWidth: 1.5, backgroundColor: 'transparent' },
      { left: 841, top: 59, width: 1072, height: 171, show: true, borderColor: '#6E6E6E', borderWidth: 1.5, backgroundColor: 'transparent' },
      { left: 841, top: 246, width: 1072, height: 171, show: true, borderColor: '#6E6E6E', borderWidth: 1.5, backgroundColor: 'transparent' },
      { left: 132, top: 566, width: 474, height: 402, show: true, borderColor: '#222', borderWidth: 1.5, backgroundColor: 'transparent' },
      { left: 1004, top: 608, width: 2, height: 193, show: false },
    ],
    xAxis: [
      aAxes.x,
      bAxes.x,
      cAxisX(2, false),
      cAxisX(3, true),
      dAxis(true),
      { gridIndex: 5, type: 'value', show: false, min: 0, max: 1 },
    ],
    yAxis: [
      aAxes.y,
      bAxes.y,
      {
        gridIndex: 2, type: 'value', min: -2.704, max: 2.704, axisLine: { show: false }, splitLine: { show: false },
        axisTick: { show: true, customValues: fdrTicks, length: 7, lineStyle: { color: '#444', width: 1.2 } },
        axisLabel: { show: true, customValues: fdrTicks, fontSize: 17, color: '#222', margin: 11, fontFamily: FONT, formatter: (v: number) => String(Math.abs(v)) },
      },
      {
        gridIndex: 3, type: 'value', min: -83.2, max: 83.2, axisLine: { show: false }, splitLine: { show: false },
        axisTick: { show: true, customValues: freqTicks, length: 9, lineStyle: { color: '#444', width: 1.2 } },
        axisLabel: { show: true, customValues: freqTicks, fontSize: 17, color: '#222', margin: 22, fontFamily: FONT, formatter: (v: number) => String(Math.abs(v)) },
      },
      dAxis(false),
      {
        gridIndex: 5, type: 'value', min: radarMin, max: radarMax, z: 20,
        axisLine: { show: false }, axisTick: { show: false }, splitLine: { show: false },
        axisLabel: { show: true, customValues: radarTicks, fontSize: 27, color: '#BEBEBE', margin: -1, align: 'center', fontFamily: FONT },
      },
    ],
    radar: {
      center: [1004, 801],
      radius: 193,
      startAngle: 90,
      splitNumber: 5,
      shape: 'polygon',
      nameGap: 13,
      indicator: order.map((i) => ({ name: pathways[i], min: radarMin, max: radarMax })),
      axisName: {
        color: INK, fontSize: 29, fontFamily: FONT,
        formatter: (n: string) => (n.endsWith('*') ? `{b|${n}}` : n),
        rich: { b: { fontWeight: 'bold', fontSize: 29, fontFamily: FONT, color: INK } },
      },
      splitLine: { lineStyle: { color: '#C2C2C2', width: 1.5 } },
      splitArea: { show: false },
      axisLine: { lineStyle: { color: '#C2C2C2', width: 1.5 } },
      axisLabel: { show: false },
      axisTick: { show: false },
    },
    graphic,
    series,
  };
}

export default function App() {
  const ref = useRef<HTMLDivElement>(null);
  useEffect(() => {
    if (!ref.current) return;
    const chart = echarts.init(ref.current, null, { renderer: 'svg' });
    chart.setOption(buildOption() as any);
    return () => chart.dispose();
  }, []);
  return (
    <div
      ref={ref}
      style={{ position: 'absolute', left: 0, top: 0, width: 1920, height: 1145, background: '#FFFFFF' }}
    />
  );
}
